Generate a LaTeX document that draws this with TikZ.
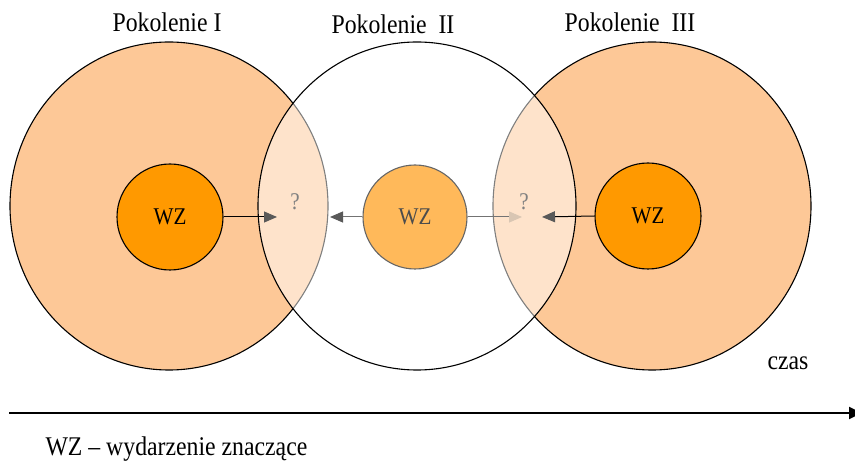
\documentclass[tikz,border=0pt]{standalone}
\usepackage{fontspec}
\setmainfont[FakeStretch=0.88]{Liberation Serif}
\usetikzlibrary{arrows.meta}
\usetikzlibrary{shapes.geometric}
\definecolor{peach}{HTML}{FDC897}
\definecolor{wzorange}{HTML}{FF9900}
\definecolor{wzlight}{HTML}{FFB95A}
\definecolor{headgray}{HTML}{595959}
\definecolor{headpale}{HTML}{D9C6B3}
\def\genw{318}
\def\genh{328}

\begin{document}
\begin{tikzpicture}[x=1pt, y=-1pt,
    gen/.style={ellipse, draw=black, line width=1.1pt, minimum width=\genw, minimum height=\genh, inner sep=0pt},
    event/.style={circle, draw=black, fill=wzorange, line width=1.1pt, minimum size=106, inner sep=0pt, font=\fontsize{24}{28}\selectfont},
    title/.style={font=\fontsize{27}{31}\selectfont},
    query/.style={text=black!50, font=\fontsize{24}{28}\selectfont},
    conn/.style={line width=1pt, -{Triangle[length=13pt, width=11pt, color=headgray]}}]
  \useasboundingbox (0,0) rectangle (855,462);
  % generations
  \node[gen, fill=peach] (g1) at (169,206) {};
  \node[gen, fill=peach] (g3) at (652,206) {};
  \node[gen, fill=white, fill opacity=0.5] (g2) at (417,206) {};
  \node[title] (t1) at (167,22) {Pokolenie I};
  \node[title] (t2) at (393,24) {Pokolenie~~II};
  \node[title] (t3) at (630,22) {Pokolenie~~III};
  % events
  \node[event] (wz1) at (170,217) {WZ};
  \node[event, draw=black!60, fill=wzlight, text=black!70, minimum size=104] (wz2) at (415,217) {WZ};
  \node[event] (wz3) at (648,216) {WZ};
  \node[query] (q1) at (295,202) {?};
  \node[query] (q2) at (524,202) {?};
  \coordinate (a1) at (277,217);
  \coordinate (a2) at (330,217);
  \coordinate (a3) at (522,217);
  \coordinate (a4) at (542,217);
  \draw[conn] (wz1.east) -- (a1);
  \draw[conn, draw=black!55] (wz2.west) -- (a2);
  \draw[conn, draw=black!55, -{Triangle[length=13pt, width=11pt, color=headpale]}] (wz2.east) -- (a3);
  \draw[conn] (wz3.west) -- (a4);
  % time axis
  \node[title] (czas) at (788,363) {czas};
  \coordinate (ts) at (9,413);
  \coordinate (te) at (862,413);
  \draw[line width=2pt, -{Triangle[length=13pt, width=12pt]}] (ts) -- (te);
  \node[title, anchor=base west] (legend) at (42,456) {WZ – wydarzenie znaczące};
\end{tikzpicture}
\end{document}
